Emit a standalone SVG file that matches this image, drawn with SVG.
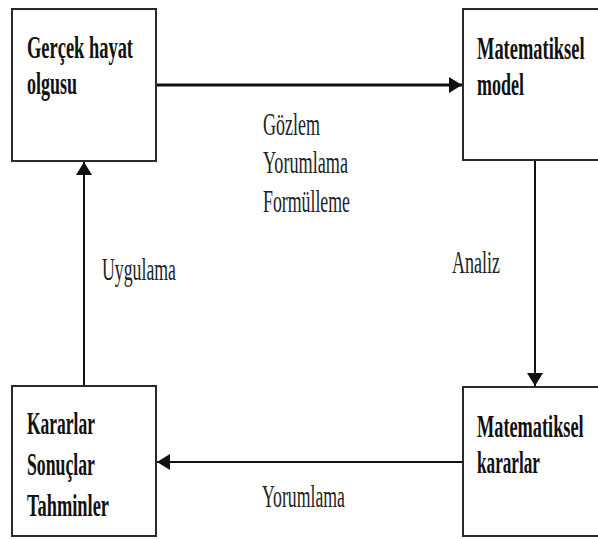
<svg xmlns="http://www.w3.org/2000/svg" width="598" height="539" viewBox="0 0 598 539">
<style>
.box{fill:#fff;stroke:#2a2a2a;stroke-width:2}
.bt{font-family:"Liberation Serif","Times New Roman",serif;font-weight:bold;font-size:31px;fill:#111}
.lt{font-family:"Liberation Serif","Times New Roman",serif;font-size:31px;fill:#222}
.con{stroke:#111;fill:none}
</style>
<defs>
<marker id="ah" markerUnits="userSpaceOnUse" markerWidth="14" markerHeight="18" refX="13" refY="8" orient="auto" viewBox="0 0 14 18" overflow="visible">
<path d="M0,0 L13,8 L0,16 Z" fill="#111"/>
</marker>
</defs>
<rect width="598" height="539" fill="#fff"/>
<g id="connectors">
<line class="con" x1="156" y1="85" x2="462" y2="85" stroke-width="3" marker-end="url(#ah)"/>
<line class="con" x1="535" y1="160" x2="535" y2="386" stroke-width="2" marker-end="url(#ah)"/>
<line class="con" x1="463" y1="462" x2="157" y2="462" stroke-width="2" marker-end="url(#ah)"/>
<line class="con" x1="84" y1="386" x2="84" y2="162" stroke-width="2" marker-end="url(#ah)"/>
<text class="lt" x="263" y="135" textLength="57" lengthAdjust="spacingAndGlyphs">Gözlem</text>
<text class="lt" x="263" y="173" textLength="85" lengthAdjust="spacingAndGlyphs">Yorumlama</text>
<text class="lt" x="263" y="212" textLength="87" lengthAdjust="spacingAndGlyphs">Formülleme</text>
<text class="lt" x="452" y="273" textLength="48" lengthAdjust="spacingAndGlyphs">Analiz</text>
<text class="lt" x="102" y="280" textLength="74" lengthAdjust="spacingAndGlyphs">Uygulama</text>
<text class="lt" x="262" y="507" textLength="83" lengthAdjust="spacingAndGlyphs">Yorumlama</text>
</g>
<g id="node-gercek">
<rect class="box" x="12" y="9" width="144" height="152"/>
<text class="bt" x="27" y="58" textLength="106" lengthAdjust="spacingAndGlyphs">Gerçek hayat</text>
<text class="bt" x="27" y="94" textLength="50" lengthAdjust="spacingAndGlyphs">olgusu</text>
</g>
<g id="node-model">
<rect class="box" x="463" y="9" width="136" height="151"/>
<text class="bt" transform="translate(477,59) scale(0.595,1)">Matematiksel</text>
<text class="bt" x="477" y="95" textLength="47" lengthAdjust="spacingAndGlyphs">model</text>
</g>
<g id="node-kararlar">
<rect class="box" x="12" y="386" width="144" height="150"/>
<text class="bt" x="27" y="434" textLength="68" lengthAdjust="spacingAndGlyphs">Kararlar</text>
<text class="bt" x="27" y="475" textLength="68" lengthAdjust="spacingAndGlyphs">Sonuçlar</text>
<text class="bt" x="27" y="516" textLength="82" lengthAdjust="spacingAndGlyphs">Tahminler</text>
</g>
<g id="node-matkararlar">
<rect class="box" x="463" y="387" width="136" height="149"/>
<text class="bt" transform="translate(477,437) scale(0.59,1)">Matematiksel</text>
<text class="bt" x="477" y="473" textLength="63" lengthAdjust="spacingAndGlyphs">kararlar</text>
</g>
</svg>
